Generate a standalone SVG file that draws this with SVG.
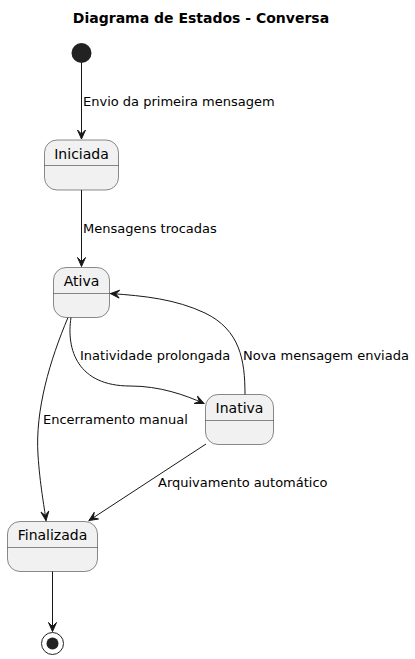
<svg xmlns="http://www.w3.org/2000/svg" width="415" height="659" viewBox="0 0 415 659">
<style>
.st{fill:#F1F1F1;stroke:#181818;stroke-width:0.5}
.dv{stroke:#181818;stroke-width:0.5}
.nm{font-family:"DejaVu Sans",sans-serif;font-size:14px;fill:#000;text-anchor:middle}
.lb{font-family:"DejaVu Sans",sans-serif;font-size:13px;fill:#000}
.ed{fill:none;stroke:#181818;stroke-width:1;marker-end:url(#ah)}
</style>
<defs>
<marker id="ah" markerUnits="userSpaceOnUse" viewBox="-10 -5 11 10" refX="0" refY="0" markerWidth="11" markerHeight="10" orient="auto" overflow="visible">
<path d="M0,0 L-9,-4 L-5,0 L-9,4 Z" fill="#181818" stroke="#181818" stroke-width="1" stroke-linejoin="miter"/>
</marker>
</defs>
<rect width="415" height="659" fill="#fff"/>
<text x="201" y="23" font-family="'DejaVu Sans',sans-serif" font-size="14" font-weight="bold" text-anchor="middle">Diagrama de Estados - Conversa</text>

<g id="start"><circle cx="81.5" cy="53" r="10" fill="#222"/></g>
<g id="iniciada"><rect class="st" x="44.5" y="140" width="74" height="50" rx="12.5"/><line class="dv" x1="44.5" y1="165.5" x2="118.5" y2="165.5"/><text class="nm" x="81.5" y="159">Iniciada</text></g>
<g id="ativa"><rect class="st" x="53.5" y="267.5" width="56" height="50" rx="12.5"/><line class="dv" x1="53.5" y1="293.5" x2="109.5" y2="293.5"/><text class="nm" x="81.5" y="286">Ativa</text></g>
<g id="inativa"><rect class="st" x="205.5" y="394.5" width="68" height="50" rx="12.5"/><line class="dv" x1="205.5" y1="420.5" x2="273.5" y2="420.5"/><text class="nm" x="239.5" y="413">Inativa</text></g>
<g id="finalizada"><rect class="st" x="7.5" y="521.5" width="90" height="50" rx="12.5"/><line class="dv" x1="7.5" y1="547.5" x2="97.5" y2="547.5"/><text class="nm" x="52.5" y="540">Finalizada</text></g>
<g id="end"><circle cx="52.5" cy="643.5" r="11" fill="none" stroke="#222" stroke-width="1"/><circle cx="52.5" cy="643.5" r="6" fill="#222"/></g>

<g id="connectors">
<path class="ed" d="M81.5,63 L81.5,139"/>
<text class="lb" x="83" y="106">Envio da primeira mensagem</text>
<path class="ed" d="M81.5,190 L81.5,266.5"/>
<text class="lb" x="83" y="233">Mensagens trocadas</text>
<path class="ed" d="M71,317.5 C66,350 78,386 130,386 C160,386 185,395 204,403.5"/>
<text class="lb" x="80" y="360">Inatividade prolongada</text>
<path class="ed" d="M245,394.5 C245,360 240,330 205,313 C175,299 145,296 110.5,293.5"/>
<text class="lb" x="243" y="360">Nova mensagem enviada</text>
<path class="ed" d="M68,317.5 C50,360 35,410 38,455 C40,485 44,505 46,520.5"/>
<text class="lb" x="43" y="424">Encerramento manual</text>
<path class="ed" d="M206,444 L89,520.5"/>
<text class="lb" x="158" y="487">Arquivamento automático</text>
<path class="ed" d="M52.5,571.5 L52.5,631.5"/>
</g>
</svg>
